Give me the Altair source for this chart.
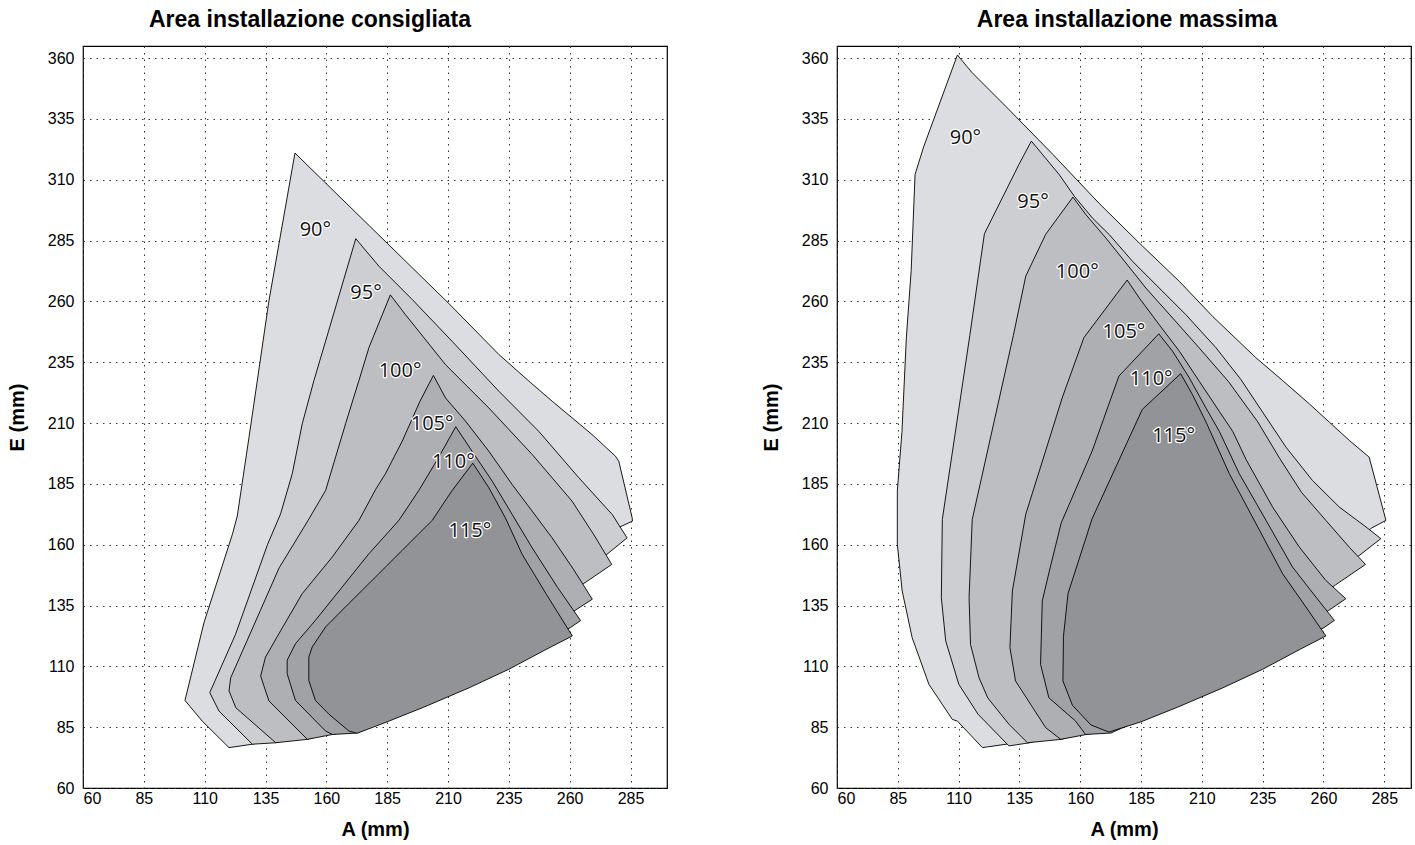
import altair as alt
import pandas as pd

TICKS_A = [60, 85, 110, 135, 160, 185, 210, 235, 260, 285]
TICKS_E = [60, 85, 110, 135, 160, 185, 210, 235, 260, 285, 310, 335, 360]
ANGLES = ["90°", "95°", "100°", "105°", "110°", "115°"]
FILLS = ["#dcdde0", "#cdced1", "#bdbec1", "#aeafb2", "#a1a2a5", "#929397"]

# lower (right-hand, bottom) boundaries shared by both panels
LOWER_90 = [(280.0, 167.0), (270.0, 159.1), (250.0, 144.0), (225.0, 125.7), (200.0, 109.1), (175.0, 93.6), (150.0, 84.4), (129.6, 78.0)]
LOWER_95 = [(274.5, 155.4), (270.0, 152.2), (250.0, 137.8), (225.0, 120.4), (200.0, 104.7), (175.0, 90.1), (150.0, 81.7), (139.2, 78.6)]
LOWER_100 = [(265.0, 143.5), (250.0, 132.9), (225.0, 116.1), (200.0, 101.1), (175.0, 87.1), (152.2, 80.0)]
LOWER_105 = [(262.2, 133.0), (250.0, 125.6), (225.0, 110.4), (200.0, 97.0), (175.0, 84.6), (162.5, 82.0)]
LOWER_110 = [(260.2, 125.9), (250.0, 120.4), (225.0, 106.6), (200.0, 94.5), (185.0, 88.3), (172.7, 82.6)]
LOWER_115 = [(250.0, 116.8), (235.0, 108.8), (218.7, 101.2), (200.0, 93.2), (185.0, 87.2)]

# Area installazione consigliata: left/upper outlines
CONS_90 = [(120.0, 76.6), (109.0, 87.5), (101.9, 96.0), (109.7, 127.9), (121.4, 164.3), (123.4, 171.8), (128.2, 204.0),
           (136.4, 260.2), (147.1, 321.0), (210.3, 259.2), (230.9, 238.2), (244.0, 226.6),
           (252.8, 219.0), (269.2, 205.3), (278.8, 196.4), (280.2, 194.3), (285.7, 171.0), (285.8, 169.7)]
CONS_95 = [(129.6, 78.0), (115.9, 91.6), (112.1, 99.2), (122.7, 123.2), (135.8, 160.0), (141.2, 172.7), (146.0, 189.2),
           (150.1, 209.7), (154.9, 227.5), (159.7, 243.7), (172.1, 285.8), (181.6, 274.5), (195.3, 260.8), (211.7, 243.6),
           (230.9, 223.1), (247.3, 206.6), (263.8, 187.5), (277.5, 172.4), (283.6, 162.8)]
CONS_100 = [(139.2, 78.6), (122.8, 93.0), (120.0, 99.9), (120.7, 105.3), (132.9, 133.0), (140.6, 150.5), (152.5, 170.0),
            (159.7, 182.3), (167.9, 209.7), (173.4, 227.5), (177.5, 241.0), (186.3, 262.7), (192.5, 254.6), (209.0, 234.0),
            (226.8, 216.2), (244.6, 197.1), (261.0, 177.9), (270.0, 164.0), (277.3, 151.9)]
CONS_105 = [(152.2, 80.0), (136.4, 95.8), (133.0, 106.0), (135.0, 113.8), (140.5, 123.4), (150.1, 139.9), (162.4, 154.9),
            (173.4, 170.0), (180.3, 182.8), (184.3, 189.2), (191.2, 202.6), (198.5, 219.0), (204.0, 229.6), (209.0, 220.3),
            (217.2, 210.8), (226.8, 198.4), (236.4, 184.7), (244.6, 173.8), (252.8, 162.8), (261.5, 150.0), (269.3, 137.6)]
CONS_110 = [(162.5, 82.0), (159.7, 83.4), (147.3, 96.0), (143.9, 107.0), (143.9, 112.5), (147.3, 119.3), (155.5, 128.9),
            (166.5, 142.6), (177.5, 156.3), (189.8, 170.0), (198.0, 182.3), (206.2, 196.0), (213.2, 208.5), (219.9, 198.4),
            (228.2, 186.1), (236.4, 172.4), (244.6, 158.7), (255.0, 142.5), (264.5, 128.8)]
CONS_115 = [(172.7, 82.5), (169.3, 83.4), (161.1, 90.3), (155.5, 96.0), (152.8, 104.2), (152.8, 113.8), (154.2, 118.0),
            (159.7, 126.2), (169.2, 135.8), (180.2, 146.7), (191.2, 157.7), (203.5, 170.0), (211.7, 182.3), (220.2, 193.5),
            (226.8, 183.4), (233.6, 171.0), (240.5, 156.0), (250.5, 139.5), (261.1, 122.5)]

# Area installazione massima: left/upper outlines
MAX_90 = [(119.8, 76.6), (109.5, 87.5), (107.4, 88.2), (97.8, 102.6), (90.9, 121.8), (86.8, 141.0), (84.8, 160.2),
          (84.8, 182.1), (86.7, 206.4), (88.5, 245.0), (90.5, 272.7), (92.1, 312.2), (95.6, 323.5), (109.5, 361.3),
          (115.6, 354.0), (129.3, 340.3), (148.7, 320.5), (167.7, 300.4), (184.3, 284.0),
          (200.8, 268.2), (214.5, 253.8), (232.2, 236.9), (243.2, 227.5), (254.2, 217.9), (262.4, 210.4), (270.6, 202.9),
          (278.8, 196.0), (285.7, 170.0)]
MAX_95 = [(130.7, 77.3), (118.0, 90.3), (110.1, 102.6), (104.7, 120.4), (102.9, 138.2), (103.3, 170.4), (114.6, 246.0),
          (120.6, 287.8), (134.8, 316.3), (139.9, 325.9), (144.6, 320.3), (151.4, 312.1), (157.6, 303.2), (165.1, 294.2),
          (172.0, 287.4), (181.6, 276.4), (192.5, 265.5), (203.5, 254.5), (215.8, 241.0), (226.0, 228.0), (235.0, 214.5),
          (244.6, 200.1), (255.5, 186.4), (266.5, 175.5), (277.5, 167.3), (283.6, 162.5)]
MAX_100 = [(138.3, 78.6), (130.7, 86.2), (122.0, 97.0), (118.4, 105.3), (114.9, 119.0), (114.3, 138.2), (115.6, 170.4),
           (132.5, 246.0), (137.6, 270.4), (145.8, 287.6), (157.0, 302.9), (162.4, 295.6), (170.6, 286.0), (178.8, 275.8),
           (187.0, 265.5), (198.0, 253.2), (209.0, 240.8), (221.0, 227.0), (233.0, 210.5), (242.0, 195.5), (251.0, 181.5),
           (261.0, 170.0), (270.6, 159.0), (277.3, 151.9)]
MAX_105 = [(152.0, 80.0), (145.8, 84.8), (133.4, 104.0), (131.1, 117.7), (132.1, 141.0), (137.6, 172.5), (152.6, 220.4),
           (161.5, 245.1), (179.3, 268.8), (184.3, 261.4), (192.5, 250.4), (200.8, 239.5), (209.0, 227.1), (217.2, 214.8),
           (222.7, 206.6), (228.2, 195.0), (239.1, 175.5), (250.1, 159.0), (261.0, 145.3), (269.2, 137.8)]
MAX_110 = [(162.2, 82.0), (158.1, 87.5), (147.1, 97.1), (143.7, 110.8), (144.4, 136.9), (147.5, 150.0), (152.2, 169.0),
           (164.9, 198.5), (175.9, 229.3), (192.3, 246.7), (198.0, 239.5), (204.9, 228.5), (211.7, 216.2), (217.2, 206.6),
           (225.4, 189.2), (236.4, 170.0), (247.3, 150.8), (256.9, 138.5), (264.5, 128.9)]
MAX_115 = [(171.8, 83.0), (164.4, 85.9), (156.8, 94.0), (152.9, 104.0), (153.1, 122.3), (155.0, 140.0), (164.9, 170.7),
           (185.5, 215.6), (201.3, 230.3), (206.2, 221.6), (211.7, 210.5), (221.3, 189.2), (232.3, 168.6), (243.2, 148.1),
           (252.8, 134.4), (261.0, 122.5)]

# label positions (A, E)
CONS_LABEL_A = [155.5, 176.3, 190.3, 203.5, 212.2, 219.0]
CONS_LABEL_E = [289.5, 263.5, 231.4, 209.6, 193.8, 165.6]
MAX_LABEL_A = [112.8, 140.6, 158.8, 178.0, 189.2, 198.4]
MAX_LABEL_E = [327.2, 301.0, 272.1, 247.4, 228.3, 204.7]

LOWERS = [LOWER_90, LOWER_95, LOWER_100, LOWER_105, LOWER_110, LOWER_115]
FONT = "Liberation Sans"


def polygon_df(upper, lower):
    pts = list(upper) + list(lower)
    pts = pts + [pts[0]]
    return pd.DataFrame({"A": [p[0] for p in pts], "E": [p[1] for p in pts], "i": list(range(len(pts)))})


def panel(title, uppers, lab_a, lab_e, xmax, width, title_dx):
    xs = alt.Scale(domain=[60, xmax], nice=False, zero=False)
    ys = alt.Scale(domain=[60, 365], nice=False, zero=False)
    xax = alt.Axis(values=TICKS_A, title="A (mm)")
    yax = alt.Axis(values=TICKS_E, title="E (mm)")
    layers = []
    for up, low, col in zip(uppers, LOWERS, FILLS):
        df = polygon_df(up, low)
        layers.append(
            alt.Chart(df).mark_line(fill=col, stroke="black", strokeWidth=0.9, strokeJoin="round").encode(
                x=alt.X("A:Q", scale=xs, axis=xax),
                y=alt.Y("E:Q", scale=ys, axis=yax),
                order=alt.Order("i:Q"),
            )
        )
    ldf = pd.DataFrame({"A": lab_a, "E": lab_e, "t": ANGLES})
    halo = alt.Chart(ldf).mark_text(font="Open Sans", fontSize=20, stroke="white", strokeWidth=2.5,
                                    strokeJoin="round", fill="white").encode(
        x=alt.X("A:Q", scale=xs, axis=xax), y=alt.Y("E:Q", scale=ys, axis=yax), text="t:N")
    txt = alt.Chart(ldf).mark_text(font="Open Sans", fontSize=20, fill="#111111").encode(
        x=alt.X("A:Q", scale=xs, axis=xax), y=alt.Y("E:Q", scale=ys, axis=yax), text="t:N")
    layers += [halo, txt]
    return alt.layer(*layers).properties(
        width=width, height=742,
        title=alt.TitleParams(title, font=FONT, fontSize=23, fontWeight="bold", color="black", offset=14,
                              anchor="middle", dx=title_dx),
    )


left = panel("Area installazione consigliata", [CONS_90, CONS_95, CONS_100, CONS_105, CONS_110, CONS_115],
             CONS_LABEL_A, CONS_LABEL_E, 300, 584, -65)
right = panel("Area installazione massima", [MAX_90, MAX_95, MAX_100, MAX_105, MAX_110, MAX_115],
              MAX_LABEL_A, MAX_LABEL_E, 296, 574, 3)

chart = alt.hconcat(left, right, spacing=170, bounds="flush").properties(
    padding={"left": 6, "top": 8, "right": 0, "bottom": 0}
).configure_view(
    stroke="black", strokeWidth=1.2
).configure_axis(
    labelFont=FONT, labelFontSize=16, labelColor="black",
    titleFont=FONT, titleFontSize=20, titleFontWeight="bold", titleColor="black",
    ticks=False, tickSize=0, domain=False,
    grid=True, gridDash=[1.5, 5], gridColor="#333333", gridOpacity=1, gridWidth=1,
).configure_axisX(labelPadding=2, titlePadding=13).configure_axisY(labelPadding=9, titlePadding=20)

chart.save("out.html", embed_options={"renderer": "svg", "actions": False})
